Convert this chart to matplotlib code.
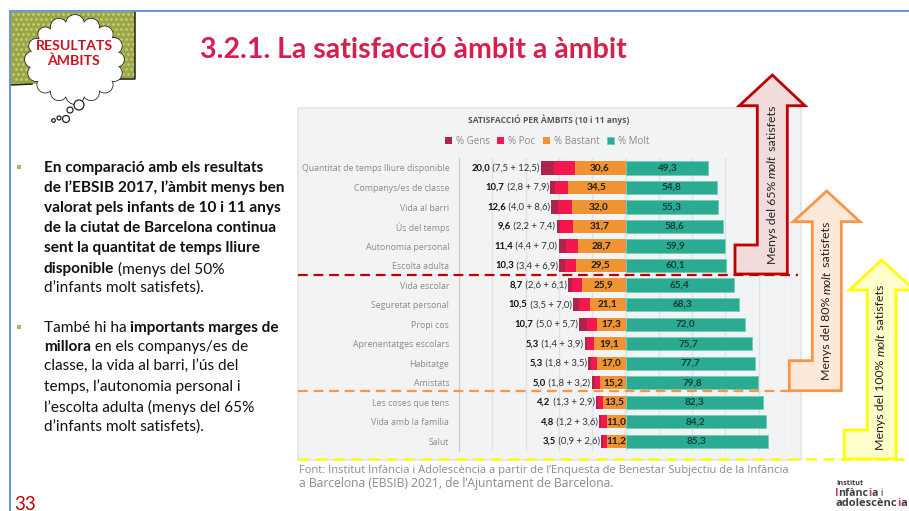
import numpy as np
import matplotlib
matplotlib.use("Agg")
import matplotlib.pyplot as plt
from matplotlib.patches import Polygon, Rectangle, Circle, Ellipse

categories = ["Quantitat de temps lliure disponible", "Companys/es de classe", "Vida al barri",
              "Ús del temps", "Autonomia personal", "Escolta adulta", "Vida escolar",
              "Seguretat personal", "Propi cos", "Aprenentatges escolars", "Habitatge",
              "Amistats", "Les coses que tens", "Vida amb la família", "Salut"]
gens = [7.5, 2.8, 4.0, 2.2, 4.4, 3.4, 2.6, 3.5, 5.0, 1.4, 1.8, 1.8, 1.3, 1.2, 0.9]
poc = [12.5, 7.9, 8.6, 7.4, 7.0, 6.9, 6.1, 7.0, 5.7, 3.9, 3.5, 3.2, 2.9, 3.6, 2.6]
total_neg = [20.0, 10.7, 12.6, 9.6, 11.4, 10.3, 8.7, 10.5, 10.7, 5.3, 5.3, 5.0, 4.2, 4.8, 3.5]
bastant = [30.6, 34.5, 32.0, 31.7, 28.7, 29.5, 25.9, 21.1, 17.3, 19.1, 17.0, 15.2, 13.5, 11.0, 11.2]
molt = [49.3, 54.8, 55.3, 58.6, 59.9, 60.1, 65.4, 68.3, 72.0, 75.7, 77.7, 79.8, 82.3, 84.2, 85.3]

W, H = 909, 511
DPI = 100
SANS = "Open Sans"
CAL = "Lato"
fig = plt.figure(figsize=(W / DPI, H / DPI), dpi=DPI, facecolor="white")
rend = fig.canvas.get_renderer()

bg = fig.add_axes([0, 0, 1, 1], zorder=0)
bg.set_xlim(0, W); bg.set_ylim(H, 0); bg.axis("off")
top = fig.add_axes([0, 0, 1, 1], zorder=5)
top.set_xlim(0, W); top.set_ylim(H, 0); top.axis("off"); top.patch.set_alpha(0)


def tw(s, **kw):
    """Advance width of a string in pixels, spaces included."""
    t = fig.text(0, 0, s + ".", **kw)
    a = t.get_window_extent(rend).width
    t.set_text(".")
    b = t.get_window_extent(rend).width
    t.remove()
    return a - b


def runs(ax, x, y, parts, size, family=CAL, color="black", rotation=0, zorder=10):
    for part in parts:
        s, style = part[0], part[1]
        col = part[2] if len(part) > 2 else color
        kw = dict(fontsize=size, family=family)
        if style == "b":
            kw["fontweight"] = "bold"
        if style == "i":
            kw["fontstyle"] = "italic"
        ax.text(x, y, s, color=col, rotation=rotation, rotation_mode="anchor",
                ha="left", va="center", zorder=zorder, **kw)
        w = tw(s, **kw)
        if rotation == 90:
            y -= w
        else:
            x += w


# ---- slide frame
bg.plot([10, 10, W], [H, 11, 11], color="#5f8ad6", lw=1.3, zorder=6, solid_joinstyle="miter")

# ---- badge
olive = Polygon([[11, 12], [135, 12], [135, 79], [11, 85]], closed=True, fc="#9ca544", ec="none", zorder=2)
bg.add_patch(olive)
dx, dy = np.meshgrid(np.arange(13, 135, 5.0), np.arange(14, 88, 5.0))
dx = dx + (np.arange(dx.shape[0])[:, None] % 2) * 2.5
dots = bg.scatter(dx.ravel(), dy.ravel(), s=4, color="#c6cb80", lw=0, zorder=2.1)
dots.set_clip_path(olive)
bg.plot([11, 32], [85, 84], color="#222222", lw=1.1, zorder=2.2)
bg.plot([135, 135, 120], [12, 79, 79], color="#222222", lw=1.1, zorder=2.2)
angles = np.radians(np.arange(0, 360, 22.5))
radii = [7, 8, 8, 8, 9, 8, 8, 8, 8, 7, 7, 8, 9, 8, 8, 8]
centers = [(75 + 42 * np.cos(a), 59.5 + 35.5 * np.sin(a)) for a in angles]
for (cx, cy), r in zip(centers, radii):
    bg.add_patch(Circle((cx, cy), r + 0.8, fc="#222222", ec="none", zorder=3))
for (cx, cy), r in zip(centers, radii):
    bg.add_patch(Circle((cx, cy), r, fc="white", ec="none", zorder=3.1))
bg.add_patch(Ellipse((75, 59.5), 86, 74, fc="white", ec="none", zorder=3.2))
for cx, cy, r in [(79, 105, 5), (70, 110, 3), (66, 119, 3.5), (59, 118, 2), (53.5, 120.5, 1.8)]:
    bg.add_patch(Circle((cx, cy), r, fc="white", ec="#222222", lw=0.9, zorder=3.3))
bg.text(74, 46, "RESULTATS", color="#d0101e", fontsize=10.2, family=CAL, fontweight="bold",
        ha="center", va="center", zorder=4)
bg.text(73.5, 60.5, "ÀMBITS", color="#d0101e", fontsize=10.2, family=CAL, fontweight="bold",
        ha="center", va="center", zorder=4)

# ---- title
bg.text(200, 50, "3.2.1. La satisfacció àmbit a àmbit", color="#d81e4e", fontsize=20.5,
        family=CAL, fontweight="bold", ha="left", va="center")

# ---- left text
bg.add_patch(Rectangle((16.5, 165), 4.5, 4.5, fc="#9bbb59", ec="none"))
bg.add_patch(Rectangle((16.5, 325), 4.5, 4.5, fc="#9bbb59", ec="none"))
lines = [
    (168, [("En comparació amb els resultats", "b")]),
    (188, [("de l’EBSIB 2017, l’àmbit menys ben", "b")]),
    (208, [("valorat pels infants de 10 i 11 anys", "b")]),
    (228, [("de la ciutat de Barcelona continua", "b")]),
    (248, [("sent la quantitat de temps lliure", "b")]),
    (269, [("disponible", "b"), (" (menys del 50%", "")]),
    (288, [("d’infants molt satisfets).", "")]),
    (328, [("També hi ha ", ""), ("importants marges de", "b")]),
    (347, [("millora", "b"), (" en els companys/es de", "")]),
    (367, [("classe, la vida al barri, l’ús del", "")]),
    (387, [("temps, l’autonomia personal i", "")]),
    (407, [("l’escolta adulta (menys del 65%", "")]),
    (427, [("d’infants molt satisfets).", "")]),
]
for y, parts in lines:
    runs(bg, 44, y, parts, 11.1, color="#111111")

# ---- chart panel
bg.add_patch(Rectangle((298, 108), 503, 352, fc="#f2f3f5", ec="#e4e5e7", lw=1.2, zorder=1))

# ---- chart axes
L, R, T, B = 459, 792, 158.24, 451
ax = fig.add_axes([L / W, 1 - B / H, (R - L) / W, (B - T) / H], zorder=2)
ax.patch.set_alpha(0)
y = np.arange(len(categories))
b = np.array(bastant); p = np.array(poc); g = np.array(gens); m = np.array(molt)
BH = 0.68
hg = ax.barh(y, -g, left=-(b + p), height=BH, color="#b0234a", label="% Gens", zorder=3)
hp = ax.barh(y, -p, left=-b, height=BH, color="#f5154f", label="% Poc", zorder=3)
hb = ax.barh(y, -b, height=BH, color="#f09433", label="% Bastant", zorder=3)
hm = ax.barh(y, m, height=BH, color="#2bab92", edgecolor="#6fcdb9", lw=0.6, label="% Molt", zorder=3)
ax.set_xlim(-100, 100)
ax.set_ylim(14.5, -0.5)
ax.set_xticks(np.arange(-100, 101, 20))
ax.tick_params(axis="x", length=0, labelbottom=False)
ax.grid(axis="x", color="#e0e1e4", lw=1, zorder=0)
ax.set_axisbelow(True)
for s in ["top", "right", "bottom"]:
    ax.spines[s].set_visible(False)
ax.spines["left"].set_color("#c9cacc")
ax.set_yticks(y)
ax.set_yticklabels(categories, family=SANS, fontsize=6.3, color="#8a8a8a")
ax.tick_params(axis="y", length=0, pad=7)

fmt = lambda v: f"{v:.1f}".replace(".", ",")
PT = 72 / DPI
VS = 6.8
for i in y:
    xl = -(b[i] + p[i] + g[i])
    rest = f" ({fmt(g[i])} + {fmt(p[i])})"
    bold = fmt(total_neg[i])
    ax.annotate(rest, (xl, i), xytext=(-1.5 * PT, 0), textcoords="offset points", ha="right",
                va="center", family=CAL, fontsize=VS, color="#333333", zorder=4)
    w = tw(rest, family=CAL, fontsize=VS)
    ax.annotate(bold, (xl, i), xytext=(-(1.5 + w) * PT, 0), textcoords="offset points", ha="right",
                va="center", family=CAL, fontsize=VS, fontweight="bold", color="#111111", zorder=4)
    ax.text(-b[i] / 2, i, fmt(b[i]), ha="center", va="center", family=CAL, fontsize=7.2,
            fontweight="bold", color="#1c1c1c", zorder=4)
    ax.text(m[i] / 2, i, fmt(m[i]), ha="center", va="center", family=CAL, fontsize=7.2,
            fontweight="bold", color="#123f38", zorder=4)

leg = fig.legend(handles=[hg, hp, hb, hm], loc="center", ncol=4,
                 bbox_to_anchor=(547 / W, 1 - 141 / H), frameon=False, prop={"family": SANS, "size": 7},
                 labelcolor="#8a8a8a", handlelength=0.75, handleheight=0.75, handletextpad=0.4,
                 columnspacing=0.75, borderpad=0)
bg.text(549, 120, "SATISFACCIÓ PER ÀMBITS (10 i 11 anys)", color="#595959", fontsize=6.1,
        family=SANS, fontweight="bold", ha="center", va="center")

# ---- dashed separators
top.plot([298, 798], [275.5, 275.5], color="#c00000", lw=1.6, dashes=(4.4, 2.6), zorder=2)
top.plot([298, 790], [391.5, 391.5], color="#f79646", lw=1.6, dashes=(4.4, 2.6), zorder=2)
top.plot([298, 909], [459.5, 459.5], color="#ffff00", lw=1.8, dashes=(4.4, 2.6), zorder=2)


# ---- bent arrows
def arrow(tip, head_y, hl, hr, sl, sr, foot_l, foot_t, foot_b, fc, ec):
    pts = [(tip, 1.0 * head_y[0]), (hr, head_y[1]), (sr, head_y[1]), (sr, foot_b), (foot_l, foot_b),
           (foot_l, foot_t), (sl, foot_t), (sl, head_y[1]), (hl, head_y[1])]
    top.add_patch(Polygon(pts, closed=True, fc=fc, ec=ec, lw=2.0, joinstyle="miter", zorder=3))


arrow(772.3, (75, 105.7), 739.3, 805, 757.3, 787.3, 735, 245, 274, "#f2dcdb", "#c00000")
arrow(826.7, (191, 221.7), 793.3, 860, 812.3, 841.3, 789.3, 360.7, 390.7, "#fde9d9", "#f79646")
arrow(881.7, (260, 290), 849.3, 914, 867.3, 896, 844.3, 430, 459, "#ffffcc", "#ffff00")
for ax_x, y0, pct in [(772, 264, "65"), (827, 380, "80"), (881, 450, "100")]:
    runs(top, ax_x, y0, [(f"Menys del {pct}% ", ""), ("molt", "i"), (" satisfets", "")], 8.9,
         color="#222222", rotation=90)

# ---- footnote
bg.text(299, 470, "Font: Institut Infància i Adolescència a partir de l’Enquesta de Benestar Subjectiu de la Infància",
        color="#8a8a8a", fontsize=8.05, family=SANS, ha="left", va="center", zorder=3)
bg.text(299, 484, "a Barcelona (EBSIB) 2021, de l’Ajuntament de Barcelona.",
        color="#8a8a8a", fontsize=8.7, family=SANS, ha="left", va="center", zorder=3)

# ---- page number
bg.text(14, 504, "33", color="#c00000", fontsize=13.5, family=CAL, ha="left", va="center")

# ---- logo
DK, RD = "#404040", "#d8325a"
bg.text(836, 483.5, "Institut", color=DK, fontsize=5.2, family=SANS, fontweight="bold", va="center")
runs(bg, 835, 493.5, [("I", "b", RD), ("nfànc", "b"), ("i", "b", RD), ("a", "b"), (" i", "")], 7.6,
     family=SANS, color=DK)
runs(bg, 836, 503.5, [("adolescènc", "b"), ("i", "b", RD), ("a", "b")], 8.0, family=SANS, color=DK)

fig.savefig("out.png", dpi=DPI)
